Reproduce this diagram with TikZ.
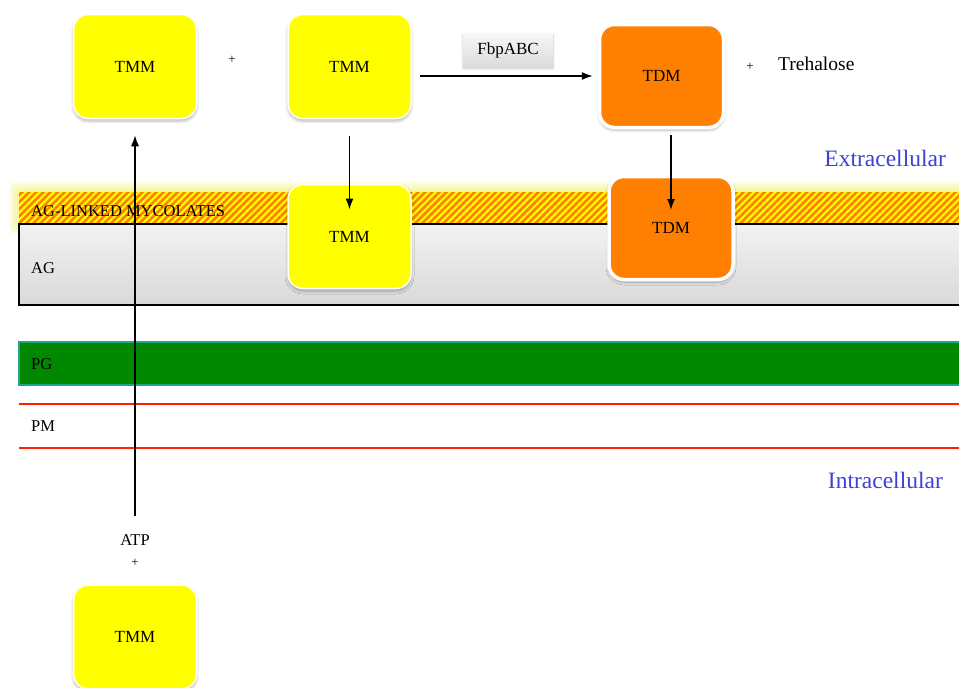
\documentclass[tikz,border=0pt]{standalone}
\usepackage{fontspec}
\setmainfont{Liberation Serif}
\usetikzlibrary{arrows.meta,patterns.meta,shadows.blur}
\definecolor{tmmYellow}{RGB}{255,255,0}
\definecolor{tdmOrange}{RGB}{255,128,0}
\definecolor{pgGreen}{RGB}{0,136,0}
\definecolor{pgTeal}{RGB}{30,165,140}
\definecolor{pmRed}{RGB}{255,32,0}
\definecolor{sideBlue}{RGB}{64,64,215}
\definecolor{glowYellow}{RGB}{235,235,60}

\begin{document}
\begin{tikzpicture}[x=1pt, y=-1pt,
    tmmbox/.style={draw=white, line width=1.5pt, fill=tmmYellow, rounded corners=15pt, minimum width=123pt, minimum height=104pt, font=\fontsize{17}{20}\selectfont, blur shadow={shadow blur steps=6, shadow blur radius=3pt, shadow xshift=0pt, shadow yshift=-2.5pt, shadow opacity=30}},
    tdmbox/.style={draw=white, line width=3.5pt, fill=tdmOrange, rounded corners=15pt, minimum width=124pt, minimum height=103pt, font=\fontsize{17}{20}\selectfont, blur shadow={shadow blur steps=6, shadow blur radius=3pt, shadow xshift=0pt, shadow yshift=-2.5pt, shadow opacity=30}},
    enzyme/.style={top color=gray!6, bottom color=gray!28, minimum width=90pt, minimum height=34pt, font=\fontsize{17}{20}\selectfont, blur shadow={shadow blur steps=4, shadow blur radius=2pt, shadow xshift=0pt, shadow yshift=-1.5pt, shadow opacity=25}},
    lbl/.style={inner sep=1pt, font=\fontsize{16.5}{20}\selectfont},
    plus/.style={inner sep=1pt, font=\fontsize{13}{15}\selectfont},
    side/.style={inner sep=1pt, text=sideBlue, font=\fontsize{23.5}{28}\selectfont},
    arr/.style={-{Latex[length=11pt,width=8pt]}, line width=1.4pt}]
            \clip (0,0) rectangle (959,688);

            % Glow round the mycolate layer
            \foreach \g in {10,8,6,4,2}
                \fill[glowYellow, opacity=0.12, rounded corners=6pt] (19-\g,192-\g) rectangle (975,224+\g);

            % AG-linked mycolates
            \fill[tmmYellow] (19,192) rectangle (975,224);
            \fill[pattern={Lines[angle=45,distance=5pt,line width=2.6pt]}, pattern color=tdmOrange] (19,192) rectangle (975,224);
            \node[lbl, anchor=west] (aglm) at (30,211) {AG-LINKED MYCOLATES};

            % Arabinogalactan
            \draw[line width=1.1pt, top color=gray!10, bottom color=gray!30] (19,224) rectangle (975,305);
            \node[lbl, anchor=west] (ag) at (30,268) {AG};

            % Peptidoglycan
            \draw[pgTeal, line width=2.5pt, fill=pgGreen] (19,342) rectangle (975,385);
            \node[lbl, anchor=west] (pg) at (30,364) {PG};

            % Plasma membrane
            \draw[pmRed, line width=2.5pt] (19,404) -- (975,404);
            \draw[pmRed, line width=2.5pt] (19,448) -- (975,448);
            \node[lbl, anchor=west] (pm) at (30,426) {PM};

            % Top row
            \node[tmmbox] (tmmA) at (135,66.5) {TMM};
            \node[plus] (plusA) at (232,60) {+};
            \node[tmmbox] (tmmB) at (349.5,66.5) {TMM};
            \node[enzyme] (fbp) at (508,50) {FbpABC};
            \node[tdmbox] (tdmA) at (661.5,76) {TDM};
            \node[plus] (plusB) at (750,67) {+};
            \node[lbl, anchor=west, font=\fontsize{19.5}{22}\selectfont] (treh) at (777,64) {Trehalose};
            \node[side, anchor=east] (extra) at (947,158) {Extracellular};

            % In the wall
            \node[tmmbox] (tmmC) at (349.5,236.5) {TMM};
            \node[tdmbox] (tdmB) at (671,228) {TDM};

            % Inside
            \node[side, anchor=east] (intra) at (944,480) {Intracellular};
            \node[lbl] (atp) at (135,540) {ATP};
            \node[plus] (plusC) at (135,563) {+};
            \node[tmmbox] (tmmD) at (135,637) {TMM};

            % Arrows
            \draw[arr, shorten <=8pt, shorten >=5pt] (tmmB.east |- tdmA.west) -- (tdmA.west);
            \draw[arr, shorten <=17pt, shorten >=27pt] (tmmB.south) -- (tmmC.center);
            \draw[arr, shorten <=6pt, shorten >=18pt] (tdmB.center |- tdmA.south) -- (tdmB.center);
            \draw[arr, shorten <=17pt, shorten >=16pt] (atp.north) -- (tmmA.south);
\end{tikzpicture}
\end{document}
